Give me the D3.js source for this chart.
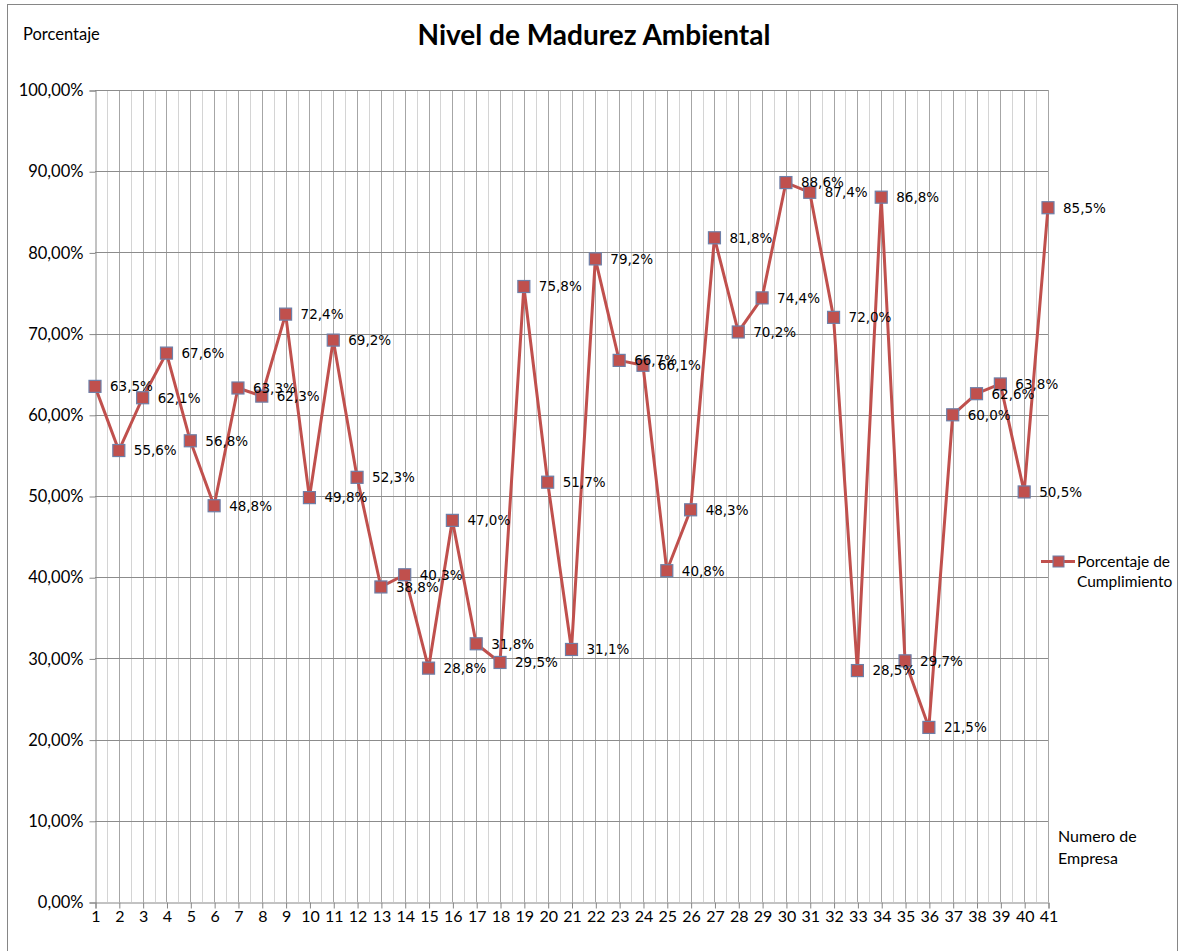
<!DOCTYPE html>
<html>
<head>
<meta charset="utf-8">
<script src="https://cdn.jsdelivr.net/npm/d3@7"></script>
<style>
  body { margin: 0; background: #fff; }
  svg { display: block; }
</style>
</head>
<body>
<div id="chart"></div>
<script>
// empresas 1..41 y porcentaje de cumplimiento
const empresas = d3.range(1, 42)
const cumplimiento = [
  63.5, 55.6, 62.1, 67.6, 56.8, 48.8, 63.3, 62.3, 72.4, 49.8,
  69.2, 52.3, 38.8, 40.3, 28.8, 47.0, 31.8, 29.5, 75.8, 51.7,
  31.1, 79.2, 66.7, 66.1, 40.8, 48.3, 81.8, 70.2, 74.4, 88.6,
  87.4, 72.0, 28.5, 86.8, 29.7, 21.5, 60.0, 62.6, 63.8, 50.5,
  85.5
]
const yTicks = [0, 10, 20, 30, 40, 50, 60, 70, 80, 90, 100]
const seriesName = ['Porcentaje de', 'Cumplimiento']

const W = 1182, H = 951
const plot = { left: 95, right: 1048, top: 90, bottom: 902 }
const red = '#c0504d'
const uiFont = 'Lato, "Open Sans", sans-serif'

const svg = d3.select('#chart').append('svg')
  .attr('width', W)
  .attr('height', H)

// chart border
svg.append('rect')
  .attr('x', 7.5).attr('y', 4.5)
  .attr('width', 1170).attr('height', 950)
  .attr('fill', '#fff')
  .attr('stroke', '#868686')

const x = d3.scaleLinear()
  .domain([1, 41])
  .range([plot.left, plot.right])

const y = d3.scaleLinear()
  .domain([0, 100])
  .range([plot.bottom, plot.top])

// vertical gridlines: minor between categories, major at each category
const grid = svg.append('g').classed('grid', true)
grid.selectAll('line.minor')
  .data(empresas.slice(0, -1))
  .enter().append('line')
  .classed('minor', true)
  .attr('x1', d => Math.round(x(d + 0.5)) + 0.5)
  .attr('x2', d => Math.round(x(d + 0.5)) + 0.5)
  .attr('y1', plot.top)
  .attr('y2', plot.bottom)
  .attr('stroke', '#d4d4d4')

grid.selectAll('line.major')
  .data(empresas.slice(1))
  .enter().append('line')
  .classed('major', true)
  .attr('x1', d => Math.round(x(d)) + 0.5)
  .attr('x2', d => Math.round(x(d)) + 0.5)
  .attr('y1', plot.top)
  .attr('y2', plot.bottom)
  .attr('stroke', '#a6a6a6')

// horizontal gridlines
grid.selectAll('line.h')
  .data(yTicks.slice(1))
  .enter().append('line')
  .classed('h', true)
  .attr('x1', plot.left)
  .attr('x2', plot.right)
  .attr('y1', d => Math.round(y(d)) + 0.5)
  .attr('y2', d => Math.round(y(d)) + 0.5)
  .attr('stroke', '#8c8c8c')

// y axis
const yAxis = svg.append('g')
  .attr('transform', `translate(${plot.left + 0.5}, 0.5)`)
  .call(d3.axisLeft(y)
    .tickValues(yTicks)
    .tickSize(6)
    .tickPadding(6)
    .tickFormat(d => d3.format('.2f')(d).replace('.', ',') + '%'))
yAxis.select('.domain').attr('stroke', '#868686')
yAxis.selectAll('.tick line').attr('stroke', '#868686')
yAxis.selectAll('.tick text')
  .attr('fill', '#000')
  .style('font-family', uiFont)
  .style('font-size', '16.5px')

// x axis
const xAxis = svg.append('g')
  .attr('transform', `translate(0.5, ${plot.bottom + 0.5})`)
  .call(d3.axisBottom(x)
    .tickValues(empresas)
    .tickSize(6)
    .tickPadding(2)
    .tickFormat(d => d))
xAxis.select('.domain').attr('stroke', '#868686')
xAxis.selectAll('.tick line').attr('stroke', '#868686')
xAxis.selectAll('.tick text')
  .attr('fill', '#000')
  .style('font-family', uiFont)
  .style('font-size', '16px')

// the series line
const line = d3.line()
  .x((d, i) => x(empresas[i]))
  .y(d => y(d))

svg.append('path')
  .datum(cumplimiento)
  .attr('d', line)
  .attr('fill', 'none')
  .attr('stroke', red)
  .attr('stroke-width', 3)
  .attr('stroke-linejoin', 'round')

// markers
const mk = 12
svg.append('g').selectAll('rect')
  .data(cumplimiento)
  .enter().append('rect')
  .attr('x', (d, i) => x(empresas[i]) - mk / 2)
  .attr('y', d => y(d) - mk / 2)
  .attr('width', mk)
  .attr('height', mk)
  .attr('fill', red)
  .attr('stroke', '#6d7fa8')
  .attr('stroke-width', 1.2)

// data labels
svg.append('g').selectAll('text')
  .data(cumplimiento)
  .enter().append('text')
  .attr('x', (d, i) => x(empresas[i]) + 15)
  .attr('y', d => y(d))
  .attr('dy', '0.36em')
  .style('font-family', '"DejaVu Sans", Verdana, sans-serif')
  .style('font-size', '13.5px')
  .attr('fill', '#000')
  .text(d => d3.format('.1f')(d).replace('.', ',') + '%')

// title and axis titles
svg.append('text')
  .attr('x', 594).attr('y', 45)
  .attr('text-anchor', 'middle')
  .style('font-family', uiFont)
  .style('font-weight', 'bold')
  .style('font-size', '28px')
  .text('Nivel de Madurez Ambiental')

svg.append('text')
  .attr('x', 23).attr('y', 40)
  .style('font-family', uiFont)
  .style('font-size', '16.5px')
  .text('Porcentaje')

const xTitle = svg.append('text')
  .attr('x', 1058)
  .style('font-family', uiFont)
  .style('font-size', '16px')
xTitle.append('tspan').attr('x', 1058).attr('y', 842).text('Numero de')
xTitle.append('tspan').attr('x', 1058).attr('y', 864).text('Empresa')

// legend
const legend = svg.append('g')
legend.append('line')
  .attr('x1', 1041).attr('x2', 1075)
  .attr('y1', 561.5).attr('y2', 561.5)
  .attr('stroke', red)
  .attr('stroke-width', 3)
legend.append('rect')
  .attr('x', 1053).attr('y', 556)
  .attr('width', 11).attr('height', 11)
  .attr('fill', red)
  .attr('stroke', '#6d7fa8')
const legendText = legend.append('text')
  .style('font-family', uiFont)
  .style('font-size', '15.5px')
legendText.selectAll('tspan')
  .data(seriesName)
  .enter().append('tspan')
  .attr('x', 1077)
  .attr('y', (d, i) => 567 + i * 20)
  .text(d => d)
</script>
</body>
</html>
